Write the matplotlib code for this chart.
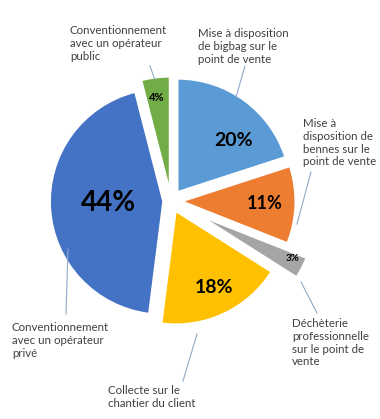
import numpy as np
import matplotlib.pyplot as plt

plt.rcParams['font.family'] = ['Lato', 'DejaVu Sans']

# data, clockwise from 12 o'clock
labels = ["Mise à disposition\nde bigbag sur le\npoint de vente",
          "Mise à\ndisposition de\nbennes sur le\npoint de vente",
          "Déchèterie\nprofessionnelle\nsur le point de\nvente",
          "Collecte sur le\nchantier du client",
          "Conventionnement\navec un opérateur\nprivé",
          "Conventionnement\navec un opérateur\npublic"]
values = [20, 11, 3, 18, 44, 4]
colors = ['#5B9BD5', '#ED7D31', '#A5A5A5', '#FFC000', '#4472C4', '#70AD47']
explode = [0.1, 0.1, 0.3, 0.1, 0.07, 0.1]

W, H = 380, 419
CX, CY, R = 171, 201, 113


def px(x, y):
    # pixel position -> data coords (pie radius = 1)
    return (x - CX) / R, (CY - y) / R


fig = plt.figure(figsize=(W / 100, H / 100), dpi=100)
ax = fig.add_axes([0, 0, 1, 1])

wedges, _ = ax.pie(values, colors=colors, explode=explode, startangle=90,
                   counterclock=False, radius=1,
                   wedgeprops=dict(edgecolor='white', linewidth=1.2))

ax.set_xlim(-CX / R, (W - CX) / R)
ax.set_ylim(-(H - CY) / R, CY / R)
ax.set_aspect('equal')
ax.axis('off')

# percent labels
pct_pos = [(234, 140), (265, 203), (293, 258), (214, 287), (108, 203), (157, 97)]
pct_size = [14, 13, 7, 14, 20, 8]
for v, p, s in zip(values, pct_pos, pct_size):
    ax.text(*px(*p), f"{v}%", ha='center', va='center', fontsize=s,
            fontweight='bold', color='black')

# category labels with leader lines
lab_pos = [(198, 28), (303, 118), (292, 318), (108, 385), (12, 322), (70, 25)]
line_from = [(245, 66), (311, 172), (317, 313), (183, 381), (66, 314), (150, 66)]
line_to = [(236, 97), (297, 224), (301, 282), (197, 334), (68, 249), (155, 80)]
for lab, lp, a, b in zip(labels, lab_pos, line_from, line_to):
    ax.text(*px(*lp), lab, ha='left', va='top', fontsize=8.3, color='#404040',
            linespacing=1.2)
    xa, ya = px(*a)
    xb, yb = px(*b)
    ax.plot([xa, xb], [ya, yb], color='#8EA9C8', linewidth=0.8)

fig.savefig('out.png', dpi=100, facecolor='white')
